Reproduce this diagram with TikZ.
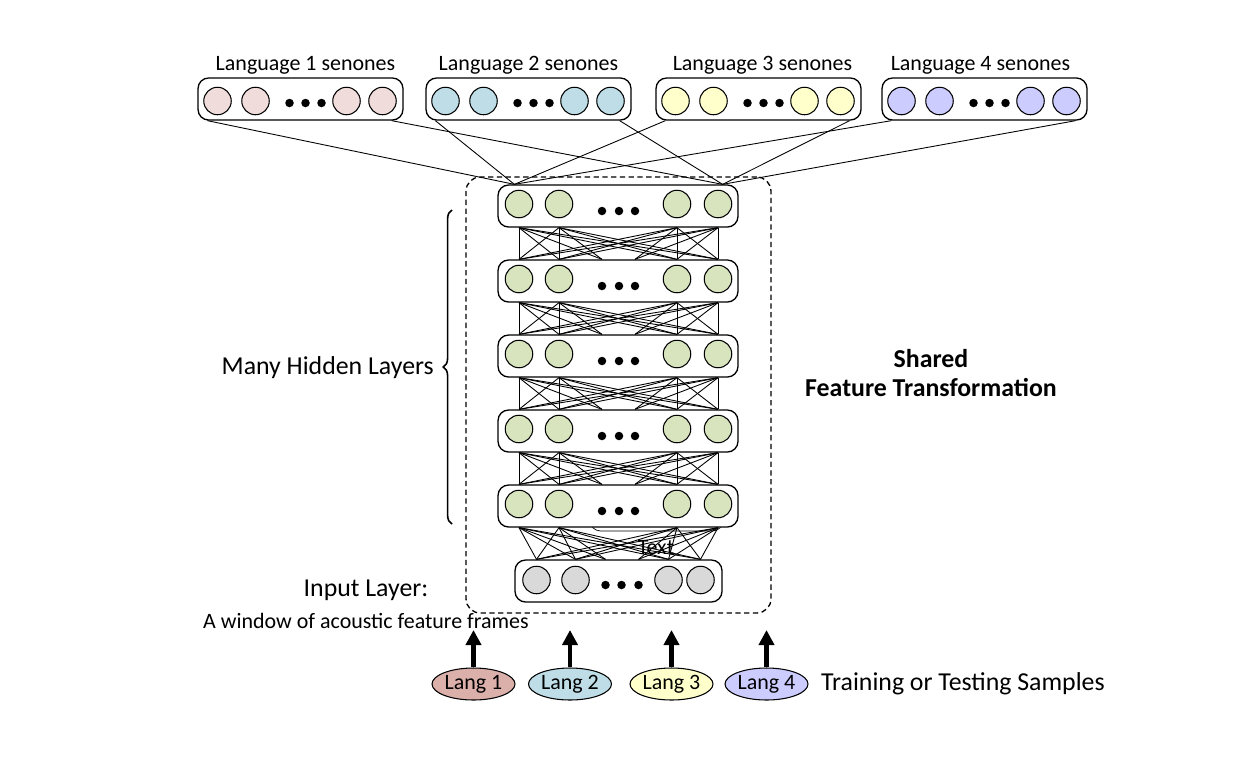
\documentclass[tikz,border=0pt]{standalone}
\usepackage{fontspec}
\setmainfont{Carlito}
\usetikzlibrary{arrows.meta,calc,shapes.geometric,decorations.pathreplacing}

\definecolor{senoneA}{RGB}{240,220,219}
\definecolor{senoneB}{RGB}{190,221,230}
\definecolor{senoneC}{RGB}{255,255,204}
\definecolor{senoneD}{RGB}{204,204,255}
\definecolor{hiddengreen}{RGB}{215,228,189}
\definecolor{inputgray}{RGB}{217,217,217}
\definecolor{langA}{RGB}{219,175,170}

\tikzset{
  layer/.style = {draw, rounded corners = 6pt, fill = white, line width = .75pt,
                  minimum height = .84cm, inner sep = 0pt},
  unit/.style  = {draw, circle, inner sep = 0pt, minimum size = .55cm, line width = .6pt},
  dot/.style   = {fill, circle, inner sep = 0pt, minimum size = .17cm},
  wire/.style  = {line width = .5pt},
  lang/.style  = {draw, ellipse, inner sep = 0pt, minimum width = 1.66cm,
                  minimum height = .64cm, line width = .6pt},
  txt/.style   = {font = \fontsize{12.5}{17}\selectfont},
  bigtxt/.style = {font = \fontsize{14.7}{17}\selectfont},
}

\begin{document}
\begin{tikzpicture}[x = .02cm, y = -.02cm]
  \useasboundingbox (0,0) rectangle (1260,758);

  % senone layers, one per language
  \node (s1) at (300.5, 99) [layer, minimum width = 4.1cm] {};
  \node (s2) at (528.5, 99) [layer, minimum width = 4.1cm] {};
  \node (s3) at (758.5, 99) [layer, minimum width = 4.1cm] {};
  \node (s4) at (984.5, 99) [layer, minimum width = 4.1cm] {};
  \foreach \s/\c/\tx in {1/senoneA/5, 2/senoneB/0, 3/senoneC/4, 4/senoneD/-4} {
    \foreach \k/\dx in {1/-83, 2/-45, 3/46, 4/82}
      \node (s\s-\k) at ($(s\s)+(\dx,2)$) [unit, fill = \c] {};
    \foreach \k/\dx in {1/-11, 2/5, 3/21}
      \node (s\s-d\k) at ($(s\s)+(\dx,4)$) [dot] {};
    \node (t\s) at ($(s\s)+(\tx,-34)$) [txt] {Language \s{} senones};
  }

  % shared part
  \node (shared) at (618.5, 395) [draw, dashed, dash pattern = on 3pt off 2pt,
        rounded corners = 8pt, minimum width = 6.1cm, minimum height = 8.72cm,
        line width = .75pt] {};
  \node (ghost) at (656.5, 510) [draw, rounded corners = 6pt, minimum width = 2.66cm,
        minimum height = .84cm, line width = .4pt] {};
  \node (ghost text) at (656, 548) [txt] {Text};
  \node (h0) at (618.5, 581) [layer, minimum width = 4.14cm] {};
  \foreach \l in {1,...,5}
    \node (h\l) at (618, 131 + 75*\l) [layer, minimum width = 4.8cm] {};
  \foreach \l in {1,...,5} {
    \foreach \k/\dx in {1/-99, 2/-59, 3/59, 4/100}
      \node (h\l-\k) at ($(h\l)+(\dx,-2)$) [unit, fill = hiddengreen] {};
    \foreach \k/\dx in {1/-16, 2/1, 3/17}
      \node (h\l-d\k) at ($(h\l)+(\dx,5)$) [dot] {};
  }
  \foreach \k/\dx in {1/-82, 2/-43, 3/50, 4/82}
    \node (h0-\k) at ($(h0)+(\dx,-1)$) [unit, fill = inputgray] {};
  \foreach \k/\dx in {1/-13, 2/3, 3/20}
    \node (h0-d\k) at ($(h0)+(\dx,4)$) [dot] {};

  % layer to layer
  \foreach \u/\v in {1/2, 2/3, 3/4, 4/5, 5/0} {
    \foreach \a in {1,...,4}
      \foreach \b in {1,...,4}
        \draw [wire] (h\u-\a |- h\u.south) -- (h\v-\b |- h\v.north);
    \draw [wire] (h\u-1 |- h\u.south) -- (h\v-d1 |- h\v.north);
    \draw [wire] (h\u-2 |- h\u.south) -- (h\v-d1 |- h\v.north);
    \draw [wire] (h\u-3 |- h\u.south) -- (h\v-d3 |- h\v.north);
    \draw [wire] (h\u-4 |- h\u.south) -- (h\v-d3 |- h\v.north);
  }

  % senones to top hidden layer
  \coordinate (hl) at ($(h1.north west)+(17,0)$);
  \coordinate (hr) at ($(h1.north east)+(-16,0)$);
  \foreach \s in {1,...,4} {
    \draw [wire] ($(s\s.south west)+(10,0)$) -- (hl);
    \draw [wire] ($(s\s.south east)+(-12,0)$) -- (hr);
  }

  % labels
  \coordinate (bb) at (452, 524);
  \coordinate (bt) at (452, 210);
  \draw [decorate, decoration = {brace, amplitude = 5pt}, line width = .9pt] (bb) -- (bt);
  \node (many) at (440, 368) [bigtxt, anchor = east] {Many Hidden Layers};
  \node (sharedlab) at (931, 373) [font = \fontsize{14.7}{17}\selectfont\bfseries,
        align = center] {Shared\\Feature Transformation};
  \node (inlab) at (366, 590) [bigtxt] {Input Layer:};
  \node (window) at (366, 621) [txt] {A window of acoustic feature frames};

  % samples
  \foreach \k/\x/\c in {1/473.5/langA, 2/570/senoneB, 3/671.5/senoneC, 4/766.5/senoneD} {
    \node (L\k) at (\x, 684) [lang, fill = \c, txt] {Lang \k};
    \coordinate (a\k) at (\x, 630);
    \draw [-{Triangle[width = .3cm, length = .3cm]}, line width = 2.6pt] (L\k.north) -- (a\k);
  }
  \node (samples) at (815, 684) [bigtxt, anchor = west] {Training or Testing Samples};
\end{tikzpicture}
\end{document}
